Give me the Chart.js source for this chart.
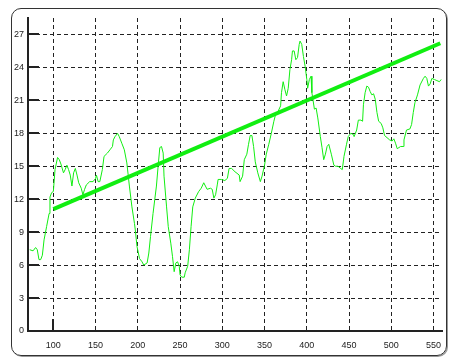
<!DOCTYPE html>
<html>
<head>
<meta charset="utf-8">
<script src="https://cdn.jsdelivr.net/npm/chart.js@4"></script>
<style>
  html, body { margin: 0; padding: 0; background: #fff; }
  #frame {
    position: absolute; left: 11px; top: 8px; width: 434px; height: 346px;
    border: 1px solid #333; border-radius: 10px; box-shadow: 1px 1px 0 #999;
  }
  #wrap { position: absolute; left: 0; top: 0; width: 457px; height: 358px; }
</style>
</head>
<body>
<div id="frame"></div>
<div id="wrap"><canvas id="myChart" width="457" height="358"></canvas></div>
<script>
// signal
const xValues = [72, 76, 79, 81, 83, 85, 87, 89, 92, 95, 96, 98, 100, 102, 105, 107, 109, 112, 114, 116, 118, 120,
  122, 124, 126, 128, 130, 133, 135, 137, 139, 143, 147, 150, 151, 153, 155, 158, 160, 164, 167, 170, 171, 173, 176,
  178, 181, 184, 187, 190, 193, 196, 197, 199, 202, 205, 207, 211, 213, 215, 218, 222, 224, 226, 228, 230, 231, 234,
  236, 239, 241, 243, 245, 247, 249, 250, 252, 255, 256, 259, 261, 263, 265, 268, 272, 275, 278, 280, 282, 286, 288,
  290, 292, 294, 295, 299, 303, 306, 308, 311, 315, 320, 321, 324, 326, 329, 331, 333, 335, 337, 339, 342, 345, 347,
  350, 352, 355, 358, 361, 363, 366, 369, 370, 372, 374, 376, 378, 380, 382, 383, 385, 387, 389, 391, 392, 394, 396,
  398, 400, 401, 403, 405, 406, 409, 411, 413, 416, 418, 420, 422, 424, 426, 429, 432, 434, 437, 440, 442, 444, 447,
  449, 452, 455, 456, 459, 461, 464, 466, 467, 469, 471, 473, 475, 477, 479, 481, 483, 485, 488, 490, 492, 495, 498,
  501, 503, 505, 507, 509, 511, 514, 515, 518, 522, 524, 526, 528, 531, 534, 538, 540, 542, 544, 546, 548, 551, 554,
  557, 559];
const yValues = [7.4, 7.3, 7.6, 7.4, 6.5, 6.5, 6.9, 8.3, 9.5, 10.7, 12.2, 12.6, 12.7, 14.7, 15.8, 15.6, 15.2, 14.4,
  14.7, 15.1, 14.7, 14.2, 13.2, 14.4, 14.8, 14.2, 13.5, 13.0, 12.4, 12.9, 13.3, 13.6, 13.6, 13.9, 14.2, 13.6, 13.6,
  14.7, 15.9, 16.2, 16.5, 16.8, 17.4, 17.7, 18.0, 17.7, 17.1, 16.5, 15.3, 13.2, 11.3, 9.8, 9.2, 7.7, 6.6, 6.3, 6.0,
  6.2, 7.1, 8.6, 10.7, 13.2, 15.0, 16.7, 16.8, 16.2, 14.1, 11.3, 9.5, 8.0, 6.8, 5.4, 6.2, 6.3, 5.9, 5.1, 4.9, 4.9,
  5.3, 5.9, 7.4, 9.5, 11.3, 12.1, 12.7, 13.0, 13.5, 13.2, 12.9, 13.0, 12.9, 12.1, 12.4, 13.3, 13.8, 13.8, 13.7,
  13.9, 14.8, 14.8, 14.5, 14.2, 13.6, 14.1, 15.6, 16.1, 17.0, 17.8, 17.8, 16.8, 15.4, 14.4, 13.6, 14.1, 15.1, 16.1,
  17.0, 18.0, 19.1, 19.7, 20.0, 20.5, 21.7, 22.7, 22.0, 21.4, 22.1, 23.8, 24.7, 25.5, 25.5, 24.7, 24.9, 26.1, 26.4,
  26.1, 25.0, 24.1, 22.9, 22.1, 22.9, 23.2, 21.7, 20.2, 20.3, 19.4, 17.7, 16.7, 15.6, 16.1, 16.8, 17.0, 16.1, 15.1,
  15.0, 15.0, 14.8, 14.7, 15.9, 17.0, 17.7, 18.0, 17.9, 17.7, 18.3, 19.2, 19.2, 19.1, 20.6, 21.7, 22.3, 22.2, 21.8,
  21.5, 21.6, 21.1, 19.9, 19.1, 18.9, 18.5, 17.8, 17.6, 17.4, 17.3, 17.5, 17.1, 16.6, 16.7, 16.8, 16.8, 17.4, 18.3,
  18.4, 18.8, 19.9, 20.8, 21.5, 22.4, 23.0, 23.2, 23.0, 22.3, 22.5, 23.0, 22.9, 22.8, 22.7, 22.9];

// trend line
const trendX = [100, 558];
const trendY = [11.1, 26.2];

const xTicks = [100, 150, 200, 250, 300, 350, 400, 450, 500, 550];
const yTicks = [0, 3, 6, 9, 12, 15, 18, 21, 24, 27];

const toPoints = (xs, ys) => xs.map((x, i) => ({ x: x, y: ys[i] }));

// short solid ticks drawn inward from the axes
const innerTicks = {
  id: 'innerTicks',
  afterDatasetsDraw(chart) {
    const { ctx, chartArea, scales } = chart;
    ctx.save();
    ctx.strokeStyle = '#222';
    ctx.lineWidth = 2;
    ctx.beginPath();
    yTicks.forEach(v => {
      const y = Math.round(scales.y.getPixelForValue(v));
      ctx.moveTo(chartArea.left, y);
      ctx.lineTo(chartArea.left + 11, y);
    });
    const x0 = Math.round(scales.x.getPixelForValue(xTicks[0]));
    ctx.moveTo(x0, chartArea.bottom);
    ctx.lineTo(x0, chartArea.bottom - 12);
    ctx.stroke();
    ctx.restore();
  }
};

const grid = {
  color: '#222',
  lineWidth: 1,
  drawTicks: false
};

const tickFont = { family: 'Liberation Sans', size: 9 };

const ctx = document.getElementById('myChart').getContext('2d');
const myChart = new Chart(ctx, {
  type: 'line',
  data: {
    datasets: [{
      data: toPoints(xValues, yValues),
      borderColor: '#11ee11',
      borderWidth: 1,
      pointRadius: 0,
      fill: false
    }, {
      data: toPoints(trendX, trendY),
      borderColor: '#11ee11',
      borderWidth: 4,
      pointRadius: 0,
      fill: false
    }]
  },
  options: {
    responsive: false,
    animation: false,
    layout: { padding: { left: 0, top: 18, right: 15, bottom: 0 } },
    plugins: { legend: { display: false }, tooltip: { enabled: false } },
    scales: {
      x: {
        type: 'linear',
        min: 70,
        max: 560,
        afterBuildTicks: s => { s.ticks = xTicks.map(v => ({ value: v })); },
        afterFit: s => { s.height = 27; },
        grid: grid,
        border: { color: '#222', width: 2, dash: [4, 3], display: true },
        ticks: { color: '#222', padding: 9, maxRotation: 0, font: tickFont }
      },
      y: {
        min: 0,
        max: 28.5,
        afterBuildTicks: s => { s.ticks = yTicks.map(v => ({ value: v })); },
        afterFit: s => { s.width = 28; },
        grid: grid,
        border: { color: '#222', width: 2, dash: [4, 3], display: true },
        ticks: { color: '#222', padding: 4, font: tickFont }
      }
    }
  },
  plugins: [innerTicks]
});
</script>
</body>
</html>
